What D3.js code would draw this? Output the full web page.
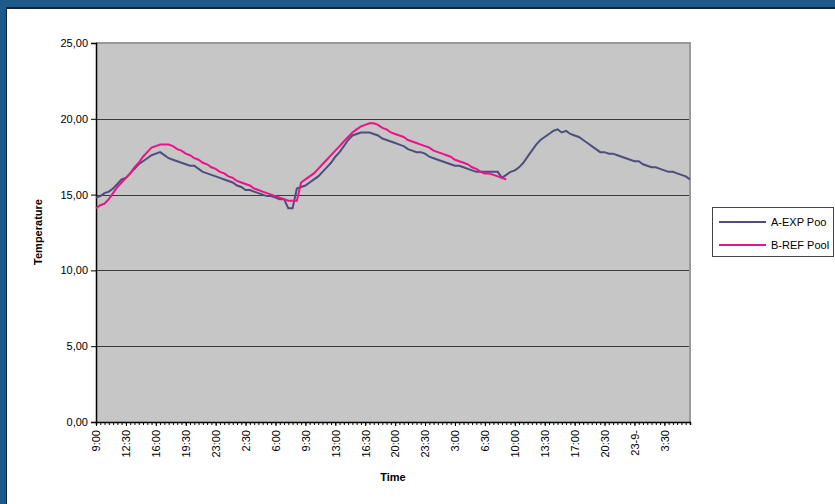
<!DOCTYPE html>
<html>
<head>
<meta charset="utf-8">
<script src="https://cdn.jsdelivr.net/npm/d3@7"></script>
<style>
  html, body { margin: 0; padding: 0; background: #ffffff; }
  svg { display: block; font-family: "Liberation Sans", Arial, sans-serif; }
</style>
</head>
<body>
<svg id="chart" width="835" height="504"></svg>
<script>
// ---- data (30-minute samples, starting 9:00) ----
const seriesNames = ["A-EXP Poo", "B-REF Pool"];
const aExp = [
  14.8,14.9,15.1,15.2,15.4,15.7,16.0,16.1,16.4,16.7,
  17.0,17.2,17.4,17.6,17.7,17.8,17.6,17.4,17.3,17.2,
  17.1,17.0,16.9,16.9,16.7,16.5,16.4,16.3,16.2,16.1,
  16.0,15.9,15.8,15.6,15.5,15.3,15.3,15.2,15.1,15.0,
  14.9,14.9,14.8,14.7,14.7,14.1,14.1,15.4,15.5,15.6,
  15.8,16.0,16.2,16.5,16.8,17.1,17.5,17.8,18.2,18.6,
  18.9,19.0,19.1,19.1,19.1,19.0,18.9,18.7,18.6,18.5,
  18.4,18.3,18.2,18.0,17.9,17.8,17.8,17.7,17.5,17.4,
  17.3,17.2,17.1,17.0,16.9,16.9,16.8,16.7,16.6,16.5,
  16.5,16.5,16.5,16.5,16.5,16.1,16.3,16.5,16.6,16.8,
  17.1,17.5,17.9,18.3,18.6,18.8,19.0,19.2,19.3,19.1,
  19.2,19.0,18.9,18.8,18.6,18.4,18.2,18.0,17.8,17.8,
  17.7,17.7,17.6,17.5,17.4,17.3,17.2,17.2,17.0,16.9,
  16.8,16.8,16.7,16.6,16.5,16.5,16.4,16.3,16.2,16.0
];
const bRef = [
  14.1,14.3,14.4,14.7,15.1,15.5,15.8,16.1,16.4,16.8,
  17.1,17.5,17.8,18.1,18.2,18.3,18.3,18.3,18.2,18.0,
  17.9,17.7,17.6,17.4,17.3,17.1,17.0,16.8,16.7,16.5,
  16.4,16.2,16.1,15.9,15.8,15.7,15.6,15.4,15.3,15.2,
  15.1,15.0,14.9,14.8,14.7,14.6,14.6,14.6,15.8,16.0,
  16.2,16.4,16.7,17.0,17.3,17.6,17.9,18.2,18.5,18.8,
  19.1,19.3,19.5,19.6,19.7,19.7,19.6,19.4,19.3,19.1,
  19.0,18.9,18.8,18.6,18.5,18.4,18.3,18.2,18.1,17.9,
  17.8,17.7,17.6,17.5,17.3,17.2,17.1,17.0,16.8,16.7,
  16.5,16.4,16.4,16.3,16.2,16.1,16.0
];
const xTickLabels = ["9:00","12:30","16:00","19:30","23:00","2:30","6:00","9:30",
  "13:00","16:30","20:00","23:30","3:00","6:30","10:00","13:30","17:00","20:30","23-9-","3:30"];
const labelEvery = 7;
const yTicks = [0, 5, 10, 15, 20, 25];
const categories = d3.range(aExp.length);
const colors = ["#4e4e7e", "#ec1289"];

// ---- layout ----
const svg = d3.select("#chart");
const W = 835, H = 504;
const plot = { left: 96, right: 690, top: 43, bottom: 422 };

// outer frame
svg.append("rect").attr("x", 0).attr("y", 0).attr("width", W).attr("height", H).attr("fill", "#1c5a8b");
svg.append("rect").attr("x", 6).attr("y", 7).attr("width", W - 6).attr("height", H - 7).attr("fill", "#1a2333");
svg.append("rect").attr("x", 7).attr("y", 9).attr("width", W - 7).attr("height", H - 9).attr("fill", "#ffffff");

const x = d3.scalePoint().domain(categories).range([plot.left, plot.right]);
const y = d3.scaleLinear().domain([0, 25]).range([plot.bottom, plot.top]);

// plot area
svg.append("rect").attr("x", plot.left).attr("y", plot.top)
  .attr("width", plot.right - plot.left).attr("height", plot.bottom - plot.top)
  .attr("fill", "#c6c6c6");

// grid lines
svg.append("g").selectAll("line").data(yTicks.filter(d => d > 0 && d < 25)).join("line")
  .attr("x1", plot.left).attr("x2", plot.right)
  .attr("y1", d => Math.round(y(d)) + 0.5).attr("y2", d => Math.round(y(d)) + 0.5)
  .attr("stroke", "#3a3a3a").attr("stroke-width", 1);

// plot border top/right (grey)
svg.append("path")
  .attr("d", `M${plot.left},${plot.top}H${plot.right}V${plot.bottom}`)
  .attr("fill", "none").attr("stroke", "#9a9a9a").attr("stroke-width", 2);

// y axis
const fmt = d => d3.format(".2f")(d).replace(".", ",");
const yAxis = svg.append("g").attr("transform", `translate(${plot.left},0)`)
  .call(d3.axisLeft(y).tickValues(yTicks).tickFormat(fmt).tickSize(5).tickPadding(3));
yAxis.select(".domain").attr("stroke", "#000").attr("stroke-width", 1.5);
yAxis.selectAll(".tick line").attr("stroke", "#000");
yAxis.selectAll("text").attr("font-size", 11).attr("fill", "#000")
  .attr("font-family", "Liberation Sans, Arial, sans-serif");

// x axis: minor ticks every category
const xMinor = svg.append("g").attr("transform", `translate(0,${plot.bottom})`)
  .call(d3.axisBottom(x).tickValues(categories).tickFormat("").tickSize(3));
xMinor.select(".domain").attr("stroke", "#000").attr("stroke-width", 1.5);
xMinor.selectAll(".tick line").attr("stroke", "#000").attr("stroke-width", 1);

// x labels every 7 categories
const labelCats = categories.filter(i => i % labelEvery === 0);
const xLab = svg.append("g").attr("transform", `translate(0,${plot.bottom})`)
  .call(d3.axisBottom(x).tickValues(labelCats)
    .tickFormat(i => xTickLabels[i / labelEvery]).tickSize(4));
xLab.select(".domain").remove();
xLab.selectAll(".tick line").attr("stroke", "#000");
xLab.selectAll("text")
  .attr("font-size", 11).attr("fill", "#000")
  .attr("font-family", "Liberation Sans, Arial, sans-serif")
  .attr("text-anchor", "end")
  .attr("transform", "rotate(-90)")
  .attr("x", -8).attr("y", 0).attr("dy", "0.35em");

// lines
const line = d3.line().defined(d => d != null)
  .x((d, i) => x(i)).y(d => y(d));
[aExp, bRef].forEach((s, k) => {
  svg.append("path").datum(s)
    .attr("d", line)
    .attr("fill", "none")
    .attr("stroke", colors[k])
    .attr("stroke-width", 2)
    .attr("stroke-linejoin", "miter");
});

// axis titles
svg.append("text").attr("transform", "translate(42,232) rotate(-90)")
  .attr("text-anchor", "middle").attr("font-size", 11).attr("font-weight", "bold")
  .text("Temperature");
svg.append("text").attr("x", 393).attr("y", 481)
  .attr("text-anchor", "middle").attr("font-size", 11).attr("font-weight", "bold")
  .text("Time");

// legend
const lg = svg.append("g");
lg.append("rect").attr("x", 712.5).attr("y", 207.5).attr("width", 121).attr("height", 49)
  .attr("fill", "#fff").attr("stroke", "#444").attr("stroke-width", 1);
seriesNames.forEach((n, k) => {
  const yy = 222 + k * 23;
  lg.append("line").attr("x1", 719).attr("x2", 766).attr("y1", yy).attr("y2", yy)
    .attr("stroke", colors[k]).attr("stroke-width", 2);
  lg.append("text").attr("x", 771).attr("y", yy + 4).attr("font-size", 11).text(n);
});
</script>
</body>
</html>
